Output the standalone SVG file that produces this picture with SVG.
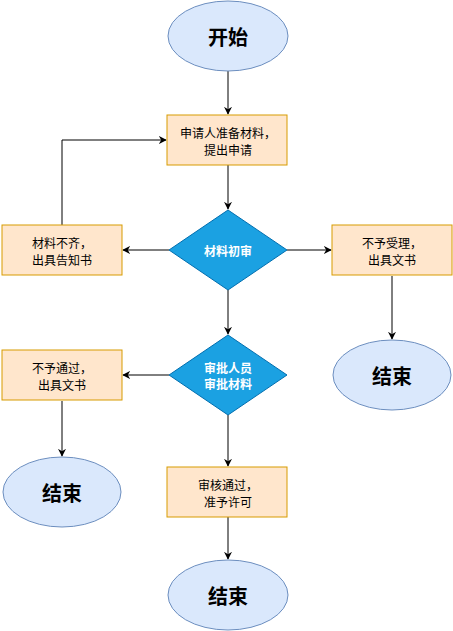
<svg xmlns="http://www.w3.org/2000/svg" width="453" height="631" viewBox="0 0 453 631">
<style>
.term{fill:#dae8fc;stroke:#6c8ebf;stroke-width:1}
.proc{fill:#ffe6cc;stroke:#d79b00;stroke-width:1}
.dec{fill:#1ba1e2;stroke:#006eaf;stroke-width:1}
.tt{font-family:"Noto Sans CJK SC","Noto Sans CJK JP",sans-serif;font-size:20px;font-weight:bold;fill:#000;text-anchor:middle;dominant-baseline:central}
.pt{font-family:"Noto Sans CJK SC","Noto Sans CJK JP",sans-serif;font-size:12px;fill:#000;text-anchor:middle;dominant-baseline:central}
.dt{font-family:"Noto Sans CJK SC","Noto Sans CJK JP",sans-serif;font-size:12px;font-weight:bold;fill:#fff;text-anchor:middle;dominant-baseline:central}
.edge{fill:none;stroke:#000;stroke-width:1}
</style>
<defs>
<marker id="arr" viewBox="0 0 10 10" refX="9" refY="5" markerWidth="8" markerHeight="8" markerUnits="userSpaceOnUse" orient="auto">
<path d="M0,0 L10,5 L0,10 L3,5 Z" fill="#000"/>
</marker>
</defs>
<rect width="453" height="631" fill="#fff"/>
<g id="connectors">
<path class="edge" d="M228,71 V114" marker-end="url(#arr)"/>
<path class="edge" d="M228,165 V209" marker-end="url(#arr)"/>
<path class="edge" d="M169,250 H123" marker-end="url(#arr)"/>
<path class="edge" d="M287,250 H331" marker-end="url(#arr)"/>
<path class="edge" d="M62,225 V140 H166" marker-end="url(#arr)"/>
<path class="edge" d="M228,290 V334" marker-end="url(#arr)"/>
<path class="edge" d="M392,276 V339" marker-end="url(#arr)"/>
<path class="edge" d="M169,375 H123" marker-end="url(#arr)"/>
<path class="edge" d="M62,401 V456" marker-end="url(#arr)"/>
<path class="edge" d="M228,415 V466" marker-end="url(#arr)"/>
<path class="edge" d="M228,517 V559" marker-end="url(#arr)"/>
</g>
<g id="start">
<ellipse class="term" cx="228" cy="36" rx="60" ry="35"/>
<text class="tt" x="228" y="36">开始</text>
</g>
<g id="prepare">
<rect class="proc" x="167" y="115" width="120" height="50"/>
<text class="pt" x="228" y="132">申请人准备材料，</text>
<text class="pt" x="228" y="149">提出申请</text>
</g>
<g id="review1">
<polygon class="dec" points="228,210 287,250 228,290 169,250"/>
<text class="dt" x="228" y="250">材料初审</text>
</g>
<g id="incomplete">
<rect class="proc" x="2" y="225" width="120" height="50"/>
<text class="pt" x="62" y="242">材料不齐，</text>
<text class="pt" x="62" y="259">出具告知书</text>
</g>
<g id="reject1">
<rect class="proc" x="332" y="225" width="120" height="50"/>
<text class="pt" x="392" y="242">不予受理，</text>
<text class="pt" x="392" y="259">出具文书</text>
</g>
<g id="end1">
<ellipse class="term" cx="392" cy="375" rx="59" ry="35"/>
<text class="tt" x="392" y="375">结束</text>
</g>
<g id="review2">
<polygon class="dec" points="228,335 287,375 228,415 169,375"/>
<text class="dt" x="228" y="367">审批人员</text>
<text class="dt" x="228" y="383">审批材料</text>
</g>
<g id="reject2">
<rect class="proc" x="2" y="350" width="120" height="50"/>
<text class="pt" x="62" y="367">不予通过，</text>
<text class="pt" x="62" y="384">出具文书</text>
</g>
<g id="end2">
<ellipse class="term" cx="62" cy="492" rx="59" ry="35"/>
<text class="tt" x="62" y="492">结束</text>
</g>
<g id="approve">
<rect class="proc" x="167" y="467" width="120" height="50"/>
<text class="pt" x="228" y="484">审核通过，</text>
<text class="pt" x="228" y="501">准予许可</text>
</g>
<g id="end3">
<ellipse class="term" cx="228" cy="595" rx="60" ry="35"/>
<text class="tt" x="228" y="595">结束</text>
</g>
</svg>
